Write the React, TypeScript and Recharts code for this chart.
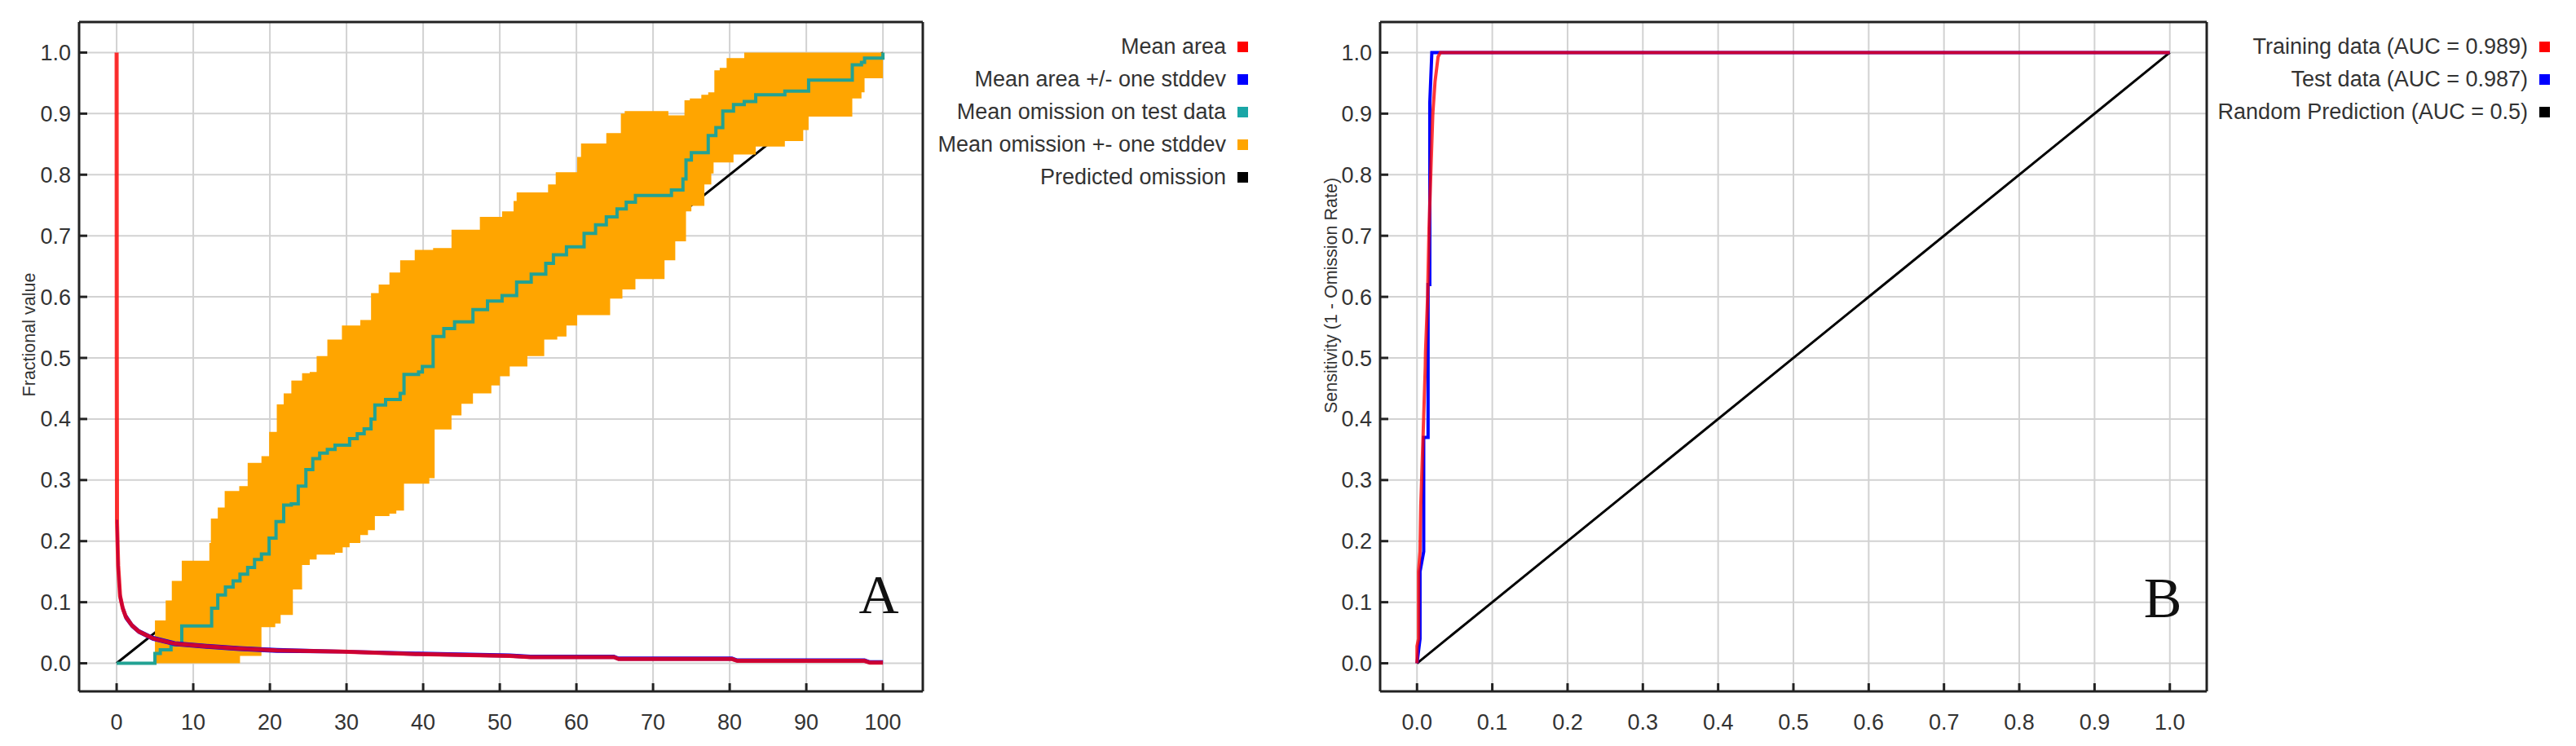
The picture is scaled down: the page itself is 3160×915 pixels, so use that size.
import React from "react";
import { ComposedChart, Line, Area, XAxis, YAxis, CartesianGrid, Label } from "recharts";

const FONT = "'Liberation Sans', Arial, Helvetica, sans-serif";

// ---- axis ticks
const yTicks = [0, 0.1, 0.2, 0.3, 0.4, 0.5, 0.6, 0.7, 0.8, 0.9, 1.0];
const xTicksA = [0, 10, 20, 30, 40, 50, 60, 70, 80, 90, 100];
const xTicksB = [0, 0.1, 0.2, 0.3, 0.4, 0.5, 0.6, 0.7, 0.8, 0.9, 1.0];

// ---- panel A: omission and predicted area
const meanAreaX = [0, 0.02, 0.05, 0.2, 0.45, 0.8, 1.2, 2, 2.9, 4.7, 7.6, 11.4, 16, 20.9, 29.5, 39.4, 51.3, 54, 64.9, 65.5, 80.3, 81, 97.6, 98.3, 100];
const meanArea = [1.0, 0.5, 0.23, 0.16, 0.11, 0.09, 0.076, 0.062, 0.052, 0.041, 0.032, 0.028, 0.024, 0.021, 0.019, 0.015, 0.012, 0.01, 0.01, 0.007, 0.007, 0.004, 0.004, 0.001, 0.001];

const stddevX = [0.05, 0.2, 0.45, 0.8, 1.2, 2, 2.9, 4.7, 7.6, 11.4, 16, 20.9, 29.5, 39.4, 51.3, 54, 64.9, 65.5, 80.3, 81, 97.6, 98.3, 100];
const meanAreaPlus = [0.235, 0.165, 0.114, 0.093, 0.079, 0.064, 0.054, 0.043, 0.034, 0.03, 0.026, 0.023, 0.02, 0.017, 0.014, 0.012, 0.012, 0.009, 0.009, 0.006, 0.006, 0.003, 0.003];
const meanAreaMinus = [0.225, 0.155, 0.106, 0.087, 0.073, 0.06, 0.05, 0.039, 0.03, 0.026, 0.022, 0.019, 0.018, 0.014, 0.011, 0.009, 0.009, 0.006, 0.006, 0.003, 0.003, 0.0, 0.0];

const omissionX = [0, 5, 5.7, 7.1, 8.5, 12.4, 13.2, 14.2, 15.2, 16.1, 17.1, 18, 18.9, 19.9, 20.8, 21.8, 22.8, 23.7, 24.7, 25.6, 26.5, 27.5, 28.5, 30.4, 31.4, 32.3, 33.2, 33.7, 35.1, 37, 37.5, 39.4, 39.9, 41.3, 42.7, 44.1, 46.5, 48.4, 50.3, 52.2, 54.1, 56, 57, 58.7, 61, 62.5, 63.9, 65.3, 66.5, 67.7, 72.4, 73.9, 74.3, 75, 77.2, 78.2, 79.1, 80.5, 81.9, 83.4, 87.2, 90.3, 96, 97.2, 97.6, 100];
const omission = [0, 0.016, 0.022, 0.03, 0.061, 0.09, 0.112, 0.125, 0.135, 0.146, 0.157, 0.17, 0.179, 0.205, 0.232, 0.259, 0.261, 0.29, 0.317, 0.335, 0.344, 0.35, 0.357, 0.368, 0.376, 0.384, 0.4, 0.423, 0.432, 0.442, 0.473, 0.477, 0.486, 0.535, 0.548, 0.559, 0.579, 0.593, 0.602, 0.624, 0.637, 0.655, 0.669, 0.682, 0.704, 0.718, 0.731, 0.744, 0.755, 0.766, 0.775, 0.793, 0.824, 0.836, 0.864, 0.877, 0.904, 0.915, 0.92, 0.931, 0.937, 0.955, 0.98, 0.984, 0.991, 1.0];

const bandUpperX = [5, 6.4, 7.2, 8.5, 12.1, 12.3, 13.2, 14.1, 16, 17.1, 18.9, 19.9, 20.9, 21.8, 22.8, 24.2, 25.2, 26.1, 27.5, 29.4, 31.8, 33.2, 34.2, 35.6, 37, 38.9, 41.3, 43.7, 47.4, 50.3, 51.8, 52.2, 56.3, 57.3, 60.1, 60.6, 63.9, 65.8, 66.3, 72, 74.1, 74.8, 76.3, 77.2, 78, 78.7, 79.6, 81.9, 100];
const bandUpper = [0.07, 0.103, 0.135, 0.168, 0.197, 0.237, 0.255, 0.282, 0.29, 0.328, 0.339, 0.379, 0.424, 0.442, 0.463, 0.475, 0.477, 0.503, 0.53, 0.553, 0.562, 0.606, 0.62, 0.64, 0.66, 0.677, 0.68, 0.71, 0.731, 0.74, 0.757, 0.771, 0.784, 0.804, 0.829, 0.851, 0.868, 0.9, 0.904, 0.897, 0.922, 0.925, 0.931, 0.935, 0.971, 0.975, 0.991, 1.0, 1.0];
const bandLowerX = [5, 16.1, 18.9, 20.7, 21.4, 23, 24.2, 25.2, 26.1, 28.5, 29.5, 30.4, 31.8, 32.8, 33.7, 35.6, 36.5, 37.5, 40.8, 41.5, 43.7, 45, 46.5, 48.9, 50, 51.3, 53.6, 55.8, 57.5, 58.7, 60.1, 64.4, 66, 67.7, 71.5, 72.9, 74.3, 75, 76.7, 77.6, 77.9, 80.5, 83.4, 87.2, 89.6, 90.3, 96, 97.2, 97.6, 100];
const bandLower = [0, 0.012, 0.059, 0.065, 0.079, 0.121, 0.161, 0.17, 0.178, 0.181, 0.19, 0.197, 0.21, 0.218, 0.241, 0.245, 0.25, 0.294, 0.303, 0.383, 0.406, 0.425, 0.442, 0.455, 0.47, 0.486, 0.503, 0.53, 0.535, 0.553, 0.57, 0.597, 0.612, 0.629, 0.66, 0.691, 0.74, 0.749, 0.784, 0.802, 0.82, 0.833, 0.846, 0.855, 0.873, 0.895, 0.925, 0.935, 0.958, 0.958];

const predictedX = [0, 100];
const predicted = [0, 1];

// ---- panel B: ROC
const trainFpr = [0, 0, 0.002, 0.002, 0.004, 0.005, 0.008, 0.011, 0.0113, 0.014, 0.016, 0.0188, 0.021, 0.024, 0.028, 0.031, 1.0];
const trainTpr = [0, 0.028, 0.04, 0.15, 0.183, 0.258, 0.37, 0.486, 0.509, 0.597, 0.713, 0.82, 0.9, 0.953, 0.993, 1.0, 1.0];
const testFpr = [0, 0.004, 0.004, 0.0089, 0.0089, 0.0147, 0.0147, 0.017, 0.017, 0.0197, 1.0];
const testTpr = [0, 0.04, 0.15, 0.183, 0.37, 0.37, 0.62, 0.62, 0.917, 1.0, 1.0];
const randomFpr = [0, 1];
const randomTpr = [0, 1];

const legendA = ["Mean area", "Mean area +/- one stddev", "Mean omission on test data", "Mean omission +- one stddev", "Predicted omission"];
const legendB = ["Training data (AUC = 0.989)", "Test data (AUC = 0.987)", "Random Prediction (AUC = 0.5)"];

const COLORS = {
  red: "#ff0000",
  blue: "#0000ff",
  teal: "#22a293",
  tealKey: "#1aa6a6",
  orange: "#ffa500",
  black: "#000000",
};
const legendColorsA = [COLORS.red, COLORS.blue, COLORS.tealKey, COLORS.orange, COLORS.black];
const legendColorsB = [COLORS.red, COLORS.blue, COLORS.black];

const pts = (xs: number[], ys: number[]) => xs.map((x, i) => ({ x, y: ys[i] }));

// value held by a step series at x
const stepAt = (xs: number[], ys: number[], x: number) => {
  let v = ys[0];
  xs.forEach((xi, i) => {
    if (xi <= x) v = ys[i];
  });
  return v;
};
const bandX = Array.from(new Set([...bandUpperX, ...bandLowerX])).sort((a, b) => a - b);
const bandData = bandX.map((x) => ({
  x,
  range: [stepAt(bandLowerX, bandLower, x), stepAt(bandUpperX, bandUpper, x)],
}));

const tickText = { fontSize: 27, fill: "#333", fontFamily: FONT };
const frame = { stroke: "#222", strokeWidth: 3 };

function AxisTitle({ viewBox, value, dx, shift }: any) {
  const cx = viewBox.x + dx;
  const cy = viewBox.y + viewBox.height / 2 + shift;
  return (
    <text
      x={cx}
      y={cy}
      transform={`rotate(-90 ${cx} ${cy})`}
      textAnchor="middle"
      dominantBaseline="central"
      style={{ fontSize: 21.5, fontFamily: FONT, fill: "#333" }}
    >
      {value}
    </text>
  );
}

function LegendBox({ labels, colors, style }: { labels: string[]; colors: string[]; style: React.CSSProperties }) {
  return (
    <div style={{ position: "absolute", fontFamily: FONT, fontSize: 27, color: "#333", ...style }}>
      {labels.map((l, i) => (
        <div key={l} style={{ display: "flex", alignItems: "center", justifyContent: "flex-end", height: 40 }}>
          <span style={{ whiteSpace: "nowrap" }}>{l}</span>
          <span style={{ display: "inline-block", width: 13, height: 13, marginLeft: 14, background: colors[i] }} />
        </div>
      ))}
    </div>
  );
}

function PanelA() {
  return (
    <ComposedChart width={1560} height={915} margin={{ top: 27, right: 428, bottom: 27, left: 37 }}>
      <CartesianGrid stroke="#d2d2d2" strokeWidth={2} />
      <XAxis
        dataKey="x"
        type="number"
        domain={[-4.9, 105.2]}
        ticks={xTicksA}
        interval={0}
        allowDataOverflow
        height={40}
        tick={tickText}
        tickSize={-10}
        tickMargin={38}
        axisLine={frame}
        tickLine={frame}
      />
      <XAxis xAxisId="top" orientation="top" mirror type="number" dataKey="x" domain={[-4.9, 105.2]} ticks={xTicksA} interval={0} tick={false} tickSize={10} axisLine={frame} tickLine={frame} />
      <YAxis
        type="number"
        domain={[-0.046, 1.05]}
        ticks={yTicks}
        interval={0}
        allowDataOverflow
        width={60}
        tick={tickText}
        tickFormatter={(v: number) => v.toFixed(1)}
        tickSize={-10}
        tickMargin={20}
        axisLine={frame}
        tickLine={frame}
      >
        <Label content={(p: any) => <AxisTitle {...p} value="Fractional value" dx={-1} shift={-27} />} />
      </YAxis>
      <YAxis yAxisId="right" orientation="right" mirror type="number" domain={[-0.046, 1.05]} ticks={yTicks} interval={0} tick={false} tickSize={10} axisLine={frame} tickLine={frame} />

      <Line data={pts(predictedX, predicted)} dataKey="y" type="linear" stroke={COLORS.black} strokeWidth={3} dot={false} activeDot={false} isAnimationActive={false} zIndex={50} />
      <Area data={bandData} dataKey="range" type="stepAfter" fill={COLORS.orange} fillOpacity={1} stroke="none" isAnimationActive={false} />
      <Line data={pts(omissionX, omission)} dataKey="y" type="stepAfter" stroke={COLORS.teal} strokeWidth={4} dot={false} activeDot={false} isAnimationActive={false} />
      <Line data={pts(stddevX, meanAreaPlus)} dataKey="y" type="linear" stroke={COLORS.blue} strokeWidth={3} dot={false} activeDot={false} isAnimationActive={false} />
      <Line data={pts(stddevX, meanAreaMinus)} dataKey="y" type="linear" stroke={COLORS.blue} strokeWidth={3} dot={false} activeDot={false} isAnimationActive={false} />
      <Line data={pts(meanAreaX, meanArea)} dataKey="y" type="linear" stroke={COLORS.red} strokeOpacity={0.8} strokeWidth={5} dot={false} activeDot={false} isAnimationActive={false} />
    </ComposedChart>
  );
}

function PanelB() {
  return (
    <ComposedChart width={1560} height={915} margin={{ top: 27, right: 453, bottom: 27, left: 33 }}>
      <CartesianGrid stroke="#d2d2d2" strokeWidth={2} />
      <XAxis
        dataKey="x"
        type="number"
        domain={[-0.049, 1.049]}
        ticks={xTicksB}
        interval={0}
        allowDataOverflow
        height={40}
        tick={tickText}
        tickFormatter={(v: number) => v.toFixed(1)}
        tickSize={-10}
        tickMargin={38}
        axisLine={frame}
        tickLine={frame}
      />
      <XAxis xAxisId="top" orientation="top" mirror type="number" dataKey="x" domain={[-0.049, 1.049]} ticks={xTicksB} interval={0} tick={false} tickSize={10} axisLine={frame} tickLine={frame} />
      <YAxis
        type="number"
        domain={[-0.046, 1.05]}
        ticks={yTicks}
        interval={0}
        allowDataOverflow
        width={60}
        tick={tickText}
        tickFormatter={(v: number) => v.toFixed(1)}
        tickSize={-10}
        tickMargin={20}
        axisLine={frame}
        tickLine={frame}
      >
        <Label content={(p: any) => <AxisTitle {...p} value="Sensitivity  (1 - Omission Rate)" dx={0} shift={-75} />} />
      </YAxis>
      <YAxis yAxisId="right" orientation="right" mirror type="number" domain={[-0.046, 1.05]} ticks={yTicks} interval={0} tick={false} tickSize={10} axisLine={frame} tickLine={frame} />

      <Line data={pts(randomFpr, randomTpr)} dataKey="y" type="linear" stroke={COLORS.black} strokeWidth={3} dot={false} activeDot={false} isAnimationActive={false} />
      <Line data={pts(testFpr, testTpr)} dataKey="y" type="linear" stroke={COLORS.blue} strokeWidth={4} dot={false} activeDot={false} isAnimationActive={false} />
      <Line data={pts(trainFpr, trainTpr)} dataKey="y" type="linear" stroke={COLORS.red} strokeOpacity={0.78} strokeWidth={4} dot={false} activeDot={false} isAnimationActive={false} />
    </ComposedChart>
  );
}

export default function App() {
  return (
    <div style={{ position: "absolute", left: 0, top: 0, width: 3160, height: 915, background: "#fff", fontFamily: FONT, overflow: "hidden" }}>
      <div style={{ position: "absolute", left: 0, top: 0 }}>
        <PanelA />
      </div>
      <div style={{ position: "absolute", left: 1600, top: 0 }}>
        <PanelB />
      </div>
      <LegendBox labels={legendA} colors={legendColorsA} style={{ right: 3160 - 1531, top: 37 }} />
      <LegendBox labels={legendB} colors={legendColorsB} style={{ right: 32, top: 37 }} />
      <div style={{ position: "absolute", left: 1078, top: 695, transform: "translateX(-50%)", fontFamily: "'Liberation Serif', 'Times New Roman', serif", fontSize: 68, lineHeight: "68px", color: "#111" }}>A</div>
      <div style={{ position: "absolute", left: 2653, top: 699, transform: "translateX(-50%)", fontFamily: "'Liberation Serif', 'Times New Roman', serif", fontSize: 70, lineHeight: "70px", color: "#111" }}>B</div>
    </div>
  );
}
